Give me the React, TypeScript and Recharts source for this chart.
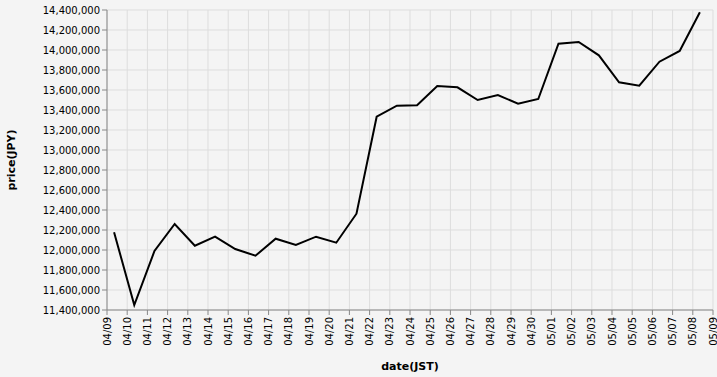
import { CartesianGrid, Line, LineChart, XAxis, YAxis } from 'recharts';

const DAY_LABELS = [
  '04/09', '04/10', '04/11', '04/12', '04/13', '04/14', '04/15', '04/16', '04/17', '04/18',
  '04/19', '04/20', '04/21', '04/22', '04/23', '04/24', '04/25', '04/26', '04/27', '04/28',
  '04/29', '04/30', '05/01', '05/02', '05/03', '05/04', '05/05', '05/06', '05/07', '05/08', '05/09',
];

// sample time within each day (fraction of the day after the label date)
const SAMPLE_OFFSET = 0.35;

const PRICES = [
  12177000, 11450000, 11990000, 12260000, 12043000, 12133000, 12010000, 11943000, 12113000, 12050000,
  12133000, 12073000, 12363000, 13333000, 13443000, 13447000, 13640000, 13627000, 13500000, 13550000,
  13463000, 13510000, 14063000, 14080000, 13947000, 13677000, 13643000, 13883000, 13990000, 14377000,
];

const Y_TICKS = [
  11400000, 11600000, 11800000, 12000000, 12200000, 12400000, 12600000, 12800000,
  13000000, 13200000, 13400000, 13600000, 13800000, 14000000, 14200000, 14400000,
];

const FONT = '"DejaVu Sans", sans-serif';

const chartData = PRICES.map((price, i) => ({ t: i + SAMPLE_OFFSET, price }));
const xTicks = DAY_LABELS.map((_, i) => i);

function DateTick({ x, y, payload }: any) {
  return (
    <text
      transform={`translate(${x},${y}) rotate(-90)`}
      textAnchor="end"
      dominantBaseline="central"
      fontSize={10}
      fontFamily={FONT}
      fill="#000"
    >
      {DAY_LABELS[payload.value]}
    </text>
  );
}

export default function App() {
  return (
    <div style={{ position: 'fixed', top: 0, left: 0, width: 717, height: 377, background: '#f4f4f4' }}>
      <LineChart width={717} height={377} data={chartData} margin={{ top: 10, right: 4, left: 0, bottom: 0 }}>
        <CartesianGrid stroke="#dddddd" strokeWidth={1} />
        <XAxis
          dataKey="t"
          type="number"
          domain={[0, 30]}
          ticks={xTicks}
          interval={0}
          height={67}
          tickSize={5}
          tickMargin={2}
          stroke="#888"
          tick={<DateTick />}
        />
        <YAxis
          type="number"
          domain={[11400000, 14400000]}
          ticks={Y_TICKS}
          interval={0}
          width={107}
          tickSize={5}
          tickMargin={2}
          stroke="#888"
          tick={{ fontSize: 10, fontFamily: FONT, fill: '#000' }}
          tickFormatter={(v: number) => v.toLocaleString('en-US')}
        />
        <Line
          type="linear"
          dataKey="price"
          stroke="#000"
          strokeWidth={2}
          dot={false}
          isAnimationActive={false}
        />
        <text x={410} y={370} textAnchor="middle" fontSize={11} fontWeight="bold" fontFamily={FONT} fill="#000">
          date(JST)
        </text>
        <text
          transform="translate(15,160) rotate(-90)"
          textAnchor="middle"
          fontSize={11}
          fontWeight="bold"
          fontFamily={FONT}
          fill="#000"
        >
          price(JPY)
        </text>
      </LineChart>
    </div>
  );
}
